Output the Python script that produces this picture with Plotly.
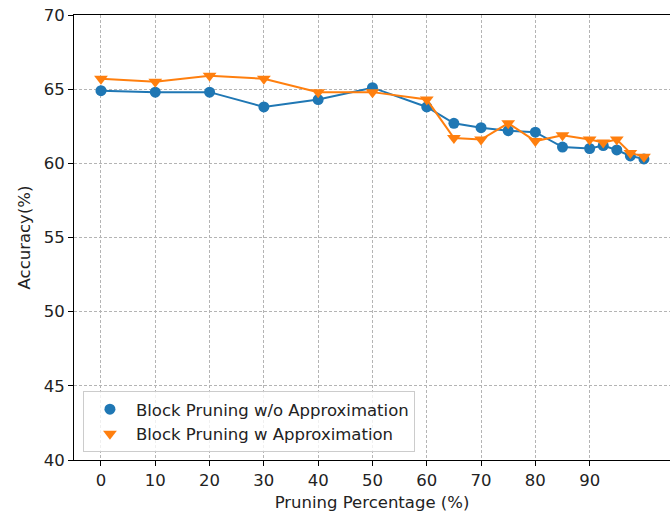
import plotly.graph_objects as go

# Pruning percentage (%)
pruning = [0, 10, 20, 30, 40, 50, 60, 65, 70, 75, 80, 85, 90, 92.5, 95, 97.5, 100]

# Accuracy (%) for each pruning level
acc_no_approx = [64.9, 64.8, 64.8, 63.8, 64.3, 65.1, 63.8, 62.7, 62.4, 62.2, 62.1,
                 61.1, 61.0, 61.2, 60.9, 60.5, 60.3]
acc_approx = [65.7, 65.5, 65.9, 65.7, 64.8, 64.8, 64.3, 61.7, 61.6, 62.7, 61.5,
              61.9, 61.6, 61.4, 61.6, 60.7, 60.45]

x_ticks = [0, 10, 20, 30, 40, 50, 60, 70, 80, 90]
y_ticks = [40, 45, 50, 55, 60, 65, 70]

BLUE = "#1f77b4"
ORANGE = "#ff7f0e"
FONT = "DejaVu Sans"
FS = 16.5

fig = go.Figure()

# connecting lines (kept out of the legend)
fig.add_trace(go.Scatter(x=pruning, y=acc_no_approx, mode="lines",
                         line=dict(color=BLUE, width=2), showlegend=False,
                         hoverinfo="skip"))
fig.add_trace(go.Scatter(x=pruning, y=acc_no_approx, mode="markers",
                         marker=dict(color=BLUE, size=11, symbol="circle"),
                         name="Block Pruning w/o Approximation"))
fig.add_trace(go.Scatter(x=pruning, y=acc_approx, mode="lines",
                         line=dict(color=ORANGE, width=2), showlegend=False,
                         hoverinfo="skip"))
fig.add_trace(go.Scatter(x=pruning, y=acc_approx, mode="markers",
                         marker=dict(color=ORANGE, size=12, symbol="triangle-down"),
                         name="Block Pruning w Approximation"))

axis_common = dict(
    showline=True, linecolor="black", linewidth=1,
    ticks="outside", ticklen=5, tickwidth=1, tickcolor="black",
    showgrid=True, gridcolor="#b4b4b4", gridwidth=0.8, griddash="3px,2px",
    zeroline=False,
    tickfont=dict(family=FONT, size=FS, color="#222"),
)

fig.update_layout(
    width=670, height=512,
    margin=dict(l=74, r=0, t=15, b=52),
    paper_bgcolor="white", plot_bgcolor="white",
    font=dict(family=FONT, size=FS, color="#222"),
    xaxis=dict(
        **axis_common, mirror=True,
        range=[-4.97, 104.8], tickvals=x_ticks,
        title=dict(text="Pruning Percentage (%)", standoff=10,
                   font=dict(family=FONT, size=FS, color="#222")),
    ),
    yaxis=dict(
        **axis_common,
        range=[40, 70], tickvals=y_ticks,
        title=dict(text="Accuracy(%)", standoff=8,
                   font=dict(family=FONT, size=FS, color="#222")),
    ),
    legend=dict(
        x=0.015, y=0.018, xanchor="left", yanchor="bottom",
        bgcolor="rgba(255,255,255,0.8)", bordercolor="#cccccc", borderwidth=1,
        font=dict(family=FONT, size=FS, color="#222"),
        itemwidth=42, tracegroupgap=2,
        entrywidth=330, entrywidthmode="pixels",
    ),
)

fig.write_html("out.html")
